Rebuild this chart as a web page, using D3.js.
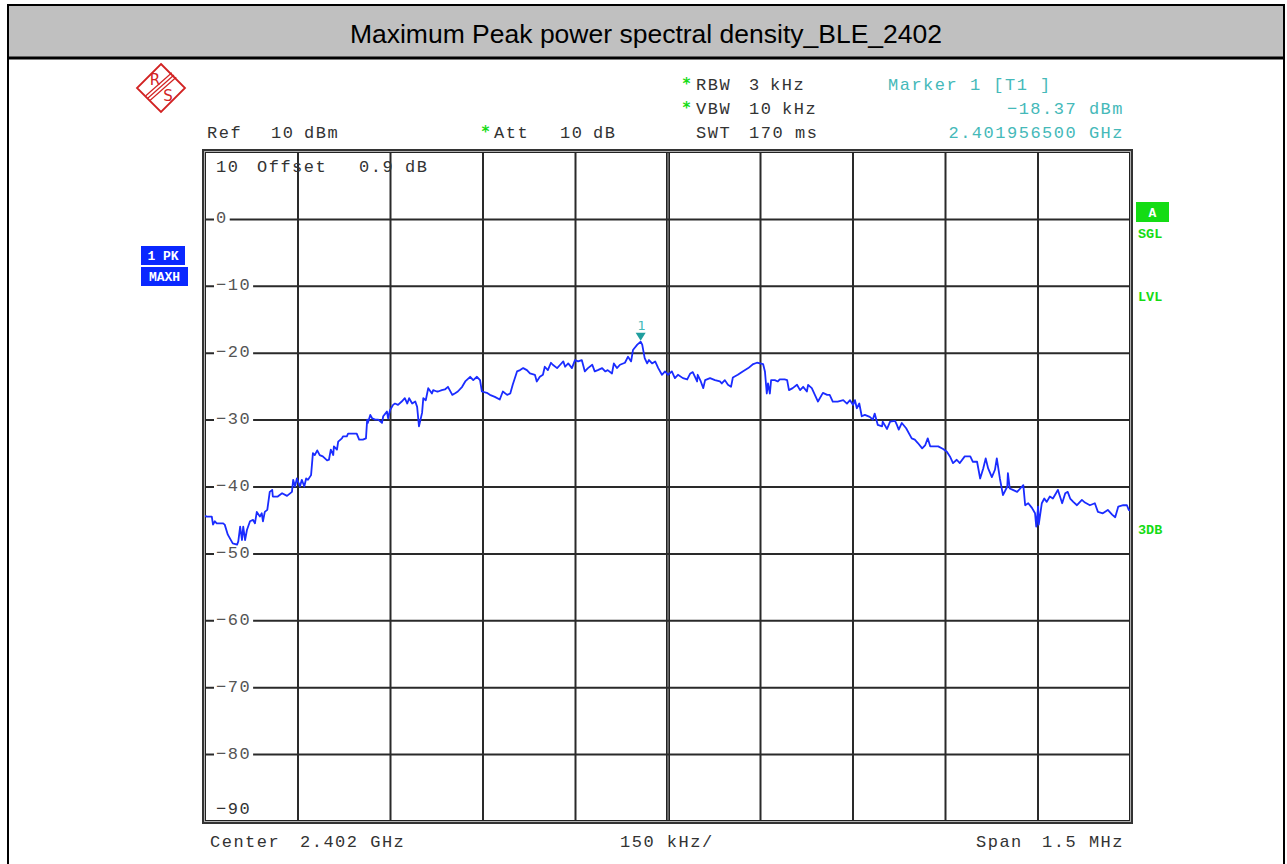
<!DOCTYPE html>
<html>
<head>
<meta charset="utf-8">
<script src="https://cdn.jsdelivr.net/npm/d3@7"></script>
<style>
  body { margin: 0; background: #fff; }
  svg text { font-family: "Liberation Mono", "DejaVu Sans Mono", monospace; }
</style>
</head>
<body>
<svg id="chart" width="1287" height="864"></svg>
<script>
// ---- data -------------------------------------------------------------
const chartTitle = "Maximum Peak power spectral density_BLE_2402";
const centerGHz = 2.402;
const spanKHz = 1500;
const divKHz = 150;
const refLevelDbm = 10;
const levelDivDb = 10;
const levelTicks = [10, 0, -10, -20, -30, -40, -50, -60, -70, -80, -90];
const freqGridKHz = [-750, -600, -450, -300, -150, 0, 150, 300, 450, 600, 750];

// Marker 1 on trace 1
const markerOffsetKHz = -43.5;
const markerLevelDbm = -18.37;

// Max-hold trace: [offset from center in kHz, level in dBm]
const tracePoints = [
  [-750,-44.4],[-747,-44.5],[-739,-44.5],[-737,-45.7],[-734,-45.2],[-731,-45.5],[-726,-45.5],[-721,-45.5],
  [-718,-45.7],[-713,-47.2],[-705,-48.5],[-698,-48.7],[-696,-48.2],[-693,-46.0],[-690,-48.0],[-688,-46.0],
  [-685,-48.0],[-682,-46.5],[-677,-45.2],[-672,-45.0],[-669,-45.5],[-666,-43.8],[-661,-44.5],[-658,-44.0],
  [-656,-45.2],[-653,-43.8],[-649,-43.5],[-645,-40.8],[-641,-40.5],[-640,-41.5],[-632,-41.5],[-625,-41.0],
  [-617,-41.4],[-609,-40.8],[-607,-39.0],[-604,-40.0],[-601,-38.8],[-596,-40.0],[-593,-39.0],[-589,-40.0],
  [-586,-38.8],[-583,-39.0],[-578,-38.3],[-575,-35.0],[-572,-35.3],[-568,-34.6],[-564,-35.3],[-559,-35.5],
  [-552,-36.1],[-549,-36.0],[-546,-34.5],[-542,-35.3],[-541,-34.0],[-536,-34.5],[-534,-33.3],[-528,-32.8],
  [-526,-32.5],[-520,-32.5],[-518,-32.1],[-504,-32.1],[-500,-33.0],[-494,-33.0],[-489,-32.8],[-487,-30.0],
  [-486,-30.5],[-482,-29.3],[-479,-29.8],[-474,-30.0],[-469,-30.0],[-463,-30.5],[-461,-29.5],[-455,-28.8],
  [-453,-29.8],[-450,-28.6],[-445,-27.8],[-442,-27.6],[-437,-27.8],[-431,-27.3],[-426,-26.8],[-422,-27.6],
  [-419,-26.8],[-414,-27.6],[-409,-27.3],[-406,-28.1],[-403,-31.0],[-398,-29.0],[-396,-26.8],[-392,-27.1],
  [-388,-25.3],[-382,-26.1],[-380,-25.6],[-374,-25.8],[-372,-25.8],[-366,-25.6],[-361,-25.5],[-356,-25.1],
  [-349,-26.3],[-345,-26.1],[-340,-25.8],[-333,-25.1],[-328,-24.3],[-320,-23.6],[-315,-24.1],[-309,-23.6],
  [-304,-24.1],[-301,-25.8],[-293,-26.0],[-288,-26.3],[-280,-26.6],[-272,-27.0],[-267,-25.8],[-260,-26.3],
  [-255,-26.1],[-251,-24.8],[-244,-22.8],[-239,-22.6],[-234,-22.3],[-228,-22.6],[-223,-23.1],[-215,-23.3],
  [-212,-24.3],[-207,-23.6],[-202,-23.3],[-199,-22.1],[-194,-22.6],[-189,-21.5],[-186,-21.8],[-179,-22.3],
  [-174,-21.8],[-169,-21.3],[-166,-22.1],[-161,-21.6],[-155,-22.3],[-150,-21.1],[-145,-21.3],[-139,-21.1],
  [-134,-22.8],[-129,-22.3],[-122,-21.8],[-118,-22.8],[-113,-22.6],[-106,-22.3],[-101,-22.8],[-97,-22.6],
  [-90,-23.1],[-87,-21.6],[-82,-22.3],[-77,-21.8],[-69,-21.5],[-64,-20.6],[-59,-21.3],[-56,-19.6],
  [-49,-18.8],[-43.5,-18.37],[-41,-18.8],[-37,-20.8],[-33,-21.6],[-30,-21.1],[-25,-21.6],[-20,-21.3],
  [-15,-22.3],[-9,-23.3],[-4,-22.8],[1,-23.3],[7,-22.8],[12,-23.8],[17,-23.3],[25,-23.8],
  [32,-24.0],[37,-23.1],[41,-22.9],[48,-24.3],[49,-23.3],[54,-24.3],[58,-25.3],[61,-24.1],
  [69,-23.8],[77,-24.1],[85,-24.3],[88,-24.6],[93,-24.1],[98,-24.8],[103,-25.1],[106,-23.7],
  [114,-23.3],[122,-22.8],[131,-22.3],[139,-21.7],[145,-21.5],[150,-21.6],[155,-21.7],[158,-22.8],
  [161,-26.1],[163,-24.6],[166,-26.1],[168,-24.1],[174,-24.1],[179,-24.3],[182,-24.0],[190,-24.0],
  [194,-24.1],[197,-25.6],[203,-25.3],[210,-24.8],[215,-25.6],[220,-25.1],[226,-25.8],[228,-24.8],
  [234,-25.3],[239,-26.3],[244,-27.3],[252,-26.0],[259,-26.3],[263,-26.3],[268,-27.3],[276,-27.3],
  [285,-27.1],[291,-27.6],[296,-27.1],[301,-27.8],[304,-27.1],[307,-28.3],[311,-27.6],[315,-29.5],
  [320,-29.3],[328,-29.6],[333,-30.0],[336,-29.1],[341,-30.8],[348,-31.0],[349,-30.3],[356,-31.4],
  [361,-30.3],[369,-30.2],[372,-30.8],[375,-31.5],[380,-30.5],[387,-31.3],[396,-32.8],[401,-33.0],
  [406,-33.5],[413,-34.3],[418,-33.8],[422,-32.8],[426,-34.0],[431,-34.0],[439,-34.0],[447,-34.4],
  [453,-34.8],[458,-35.5],[463,-36.5],[469,-36.0],[474,-36.5],[482,-35.5],[491,-35.5],[495,-36.3],
  [502,-36.3],[507,-38.8],[512,-37.3],[516,-35.8],[520,-37.3],[526,-38.6],[531,-37.5],[534,-35.8],
  [539,-38.8],[544,-41.3],[551,-40.0],[552,-38.0],[555,-40.3],[560,-40.5],[567,-40.8],[572,-40.3],
  [577,-39.8],[580,-42.8],[585,-42.5],[591,-43.2],[596,-44.0],[598,-46.0],[601,-43.0],[602,-45.7],
  [607,-42.5],[611,-41.8],[615,-42.3],[620,-41.5],[625,-41.8],[630,-41.0],[633,-40.5],[640,-42.5],
  [645,-41.0],[649,-40.8],[653,-41.8],[658,-42.3],[664,-42.8],[672,-42.0],[677,-42.4],[685,-42.8],
  [693,-42.5],[698,-43.8],[706,-44.0],[714,-43.5],[721,-44.2],[726,-44.6],[731,-43.0],[739,-42.8],
  [745,-42.8],[748,-43.5],[750,-43.6]
];

// ---- layout -----------------------------------------------------------
const W = 1287, H = 864;
const plot = { left: 205, right: 1130, top: 152, bottom: 821 };
const monoSize = 17, monoSpacing = 1.5;
const colors = {
  trace: "#1a2cff", grid: "#2a2a2a", text: "#444", green: "#14dc14",
  marker: "#1f9e9e", markerText: "#45b9b9", badge: "#0a28ff", logo: "#d22222"
};

const svg = d3.select("#chart");
svg.append("rect").attr("width", W).attr("height", H).attr("fill", "#fff");

// title bar and outer frame
svg.append("rect").attr("x", 8).attr("y", 5).attr("width", 1276).attr("height", 52).attr("fill", "#c0c0c0");
svg.append("rect").attr("x", 8).attr("y", 5).attr("width", 1276).attr("height", 870)
  .attr("fill", "none").attr("stroke", "#000").attr("stroke-width", 2);
svg.append("line").attr("x1", 8).attr("x2", 1284).attr("y1", 58).attr("y2", 58)
  .attr("stroke", "#000").attr("stroke-width", 3);
svg.append("text").attr("x", 646).attr("y", 34)
  .attr("text-anchor", "middle").attr("dominant-baseline", "central")
  .style("font-family", "'Liberation Sans', Arial, sans-serif").style("font-size", "26.5px")
  .attr("fill", "#000").text(chartTitle);

// scales
const x = d3.scaleLinear().domain([-spanKHz / 2, spanKHz / 2]).range([plot.left, plot.right]);
const y = d3.scaleLinear()
  .domain([refLevelDbm, refLevelDbm - levelDivDb * 10]).range([plot.top, plot.bottom]);

// grid via axes
const gridV = svg.append("g").attr("transform", `translate(0,${plot.bottom})`)
  .call(d3.axisBottom(x).tickValues(freqGridKHz.slice(1, -1))
    .tickSize(-(plot.bottom - plot.top)).tickFormat(""));
const gridH = svg.append("g").attr("transform", `translate(${plot.left},0)`)
  .call(d3.axisLeft(y).tickValues(levelTicks.slice(1, -1))
    .tickSize(-(plot.right - plot.left)).tickFormat(""));
[gridV, gridH].forEach(g => {
  g.select(".domain").remove();
  g.selectAll(".tick line").attr("stroke", colors.grid).attr("stroke-width", 2);
});
// center line drawn doubled
gridV.selectAll(".tick").filter(d => d === 0).each(function () {
  const t = d3.select(this);
  t.select("line").attr("stroke-width", 4).attr("stroke", "#222");
  t.append("line").attr("y2", -(plot.bottom - plot.top)).attr("stroke", "#aaa").attr("stroke-width", 1);
});

// plot frame: dark / light / dark
const frame = (inset, color, w) => svg.append("rect")
  .attr("x", plot.left - 2 + inset).attr("y", plot.top - 2 + inset)
  .attr("width", plot.right - plot.left + 4 - 2 * inset)
  .attr("height", plot.bottom - plot.top + 4 - 2 * inset)
  .attr("fill", "none").attr("stroke", color).attr("stroke-width", w);
frame(0, "#333", 2);
frame(1.5, "#b0b0b0", 1);
frame(2.5, "#222", 1);

// level labels inside the plot, left edge
const levelLabel = levelTicks.map(v => (v < 0 ? "\u2212" : "") + Math.abs(v));
levelTicks.forEach((v, i) => {
  let ly = y(v);
  if (i === 0) ly += 15;
  if (i === levelTicks.length - 1) ly -= 12;
  const txt = levelLabel[i];
  if (i > 0 && i < levelTicks.length - 1) {
    svg.append("rect").attr("x", 214).attr("y", ly - 8)
      .attr("width", txt.length * (monoSize * 0.6 + monoSpacing) + 4).attr("height", 16).attr("fill", "#fff");
  }
  svg.append("text").attr("x", 216).attr("y", ly)
    .attr("dominant-baseline", "central")
    .style("font-size", monoSize + "px").style("letter-spacing", monoSpacing + "px")
    .attr("fill", i === 0 || i === levelTicks.length - 1 ? "#333" : "#555").text(txt);
});

// offset note next to the reference label
const monoText = (tx, ty, s, fill, anchor) => svg.append("text")
  .attr("x", tx).attr("y", ty).attr("dominant-baseline", "central")
  .attr("text-anchor", anchor || "start")
  .style("font-size", monoSize + "px").style("letter-spacing", monoSpacing + "px")
  .attr("fill", fill || "#333").text(s);
monoText(257, y(levelTicks[0]) + 15, "Offset");
monoText(359, y(levelTicks[0]) + 15, "0.9");
monoText(405, y(levelTicks[0]) + 15, "dB");

// trace
svg.append("clipPath").attr("id", "plotClip").append("rect")
  .attr("x", plot.left).attr("y", plot.top)
  .attr("width", plot.right - plot.left).attr("height", plot.bottom - plot.top);
svg.append("path").datum(tracePoints)
  .attr("clip-path", "url(#plotClip)")
  .attr("fill", "none").attr("stroke", colors.trace).attr("stroke-width", 1.8)
  .attr("stroke-linejoin", "round")
  .attr("d", d3.line().x(d => x(d[0])).y(d => y(d[1])));

// marker 1
const mx = x(markerOffsetKHz), my = y(markerLevelDbm);
svg.append("path")
  .attr("d", `M${mx - 5},${my - 9}L${mx + 5},${my - 9}L${mx},${my - 1}Z`)
  .attr("fill", colors.marker);
svg.append("text").attr("x", mx + 1).attr("y", my - 16)
  .attr("text-anchor", "middle").attr("dominant-baseline", "central")
  .style("font-family", "'DejaVu Sans', sans-serif").style("font-size", "13px")
  .attr("fill", colors.markerText).text("1");

// header settings
const star = (sx, sy) => svg.append("text").attr("x", sx).attr("y", sy + 2)
  .attr("dominant-baseline", "central")
  .style("font-family", "'DejaVu Sans Mono', monospace").style("font-size", "15px").style("font-weight", "bold")
  .attr("fill", colors.green).text("*");
star(682, 82); star(682, 106); star(481, 130);
monoText(207, 133, "Ref"); monoText(271, 133, "10"); monoText(304, 133, "dBm");
monoText(494, 133, "Att"); monoText(560, 133, "10"); monoText(593, 133, "dB");
monoText(696, 85, "RBW"); monoText(749, 85, "3"); monoText(770, 85, "kHz");
monoText(696, 109, "VBW"); monoText(749, 109, "10"); monoText(782, 109, "kHz");
monoText(696, 133, "SWT"); monoText(749, 133, "170"); monoText(795, 133, "ms");

// marker readout
const markerGHz = centerGHz + markerOffsetKHz / 1e6;
monoText(888, 85, "Marker 1 [T1 ]", colors.markerText);
monoText(1124, 109, "\u2212" + Math.abs(markerLevelDbm).toFixed(2) + " dBm", colors.markerText, "end");
monoText(1124, 133, markerGHz.toFixed(9) + " GHz", colors.markerText, "end");

// footer
monoText(210, 842, "Center"); monoText(300, 842, centerGHz.toFixed(3) + " GHz");
monoText(620, 842, divKHz + " kHz/");
monoText(976, 842, "Span"); monoText(1124, 842, (spanKHz / 1000).toFixed(1) + " MHz", "#333", "end");

// trace badges
const badge = (bx, by, bw, bh, label, bg, fg) => {
  svg.append("rect").attr("x", bx).attr("y", by).attr("width", bw).attr("height", bh).attr("fill", bg);
  svg.append("text").attr("x", bx + bw / 2).attr("y", by + bh / 2 + 1)
    .attr("text-anchor", "middle").attr("dominant-baseline", "central")
    .style("font-size", "13px").style("font-weight", "bold").attr("fill", fg).text(label);
};
badge(141, 246, 44, 19, "1 PK", colors.badge, "#fff");
badge(141, 267, 47, 19, "MAXH", colors.badge, "#fff");
badge(1136, 202, 33, 20, "A", colors.green, "#fff");
const sideLabel = (ly, s) => svg.append("text").attr("x", 1138).attr("y", ly)
  .attr("dominant-baseline", "central").style("font-size", "13.5px").style("font-weight", "bold")
  .attr("fill", colors.green).text(s);
sideLabel(234, "SGL"); sideLabel(297, "LVL"); sideLabel(530, "3DB");

// R&S logo
const logo = svg.append("g").attr("transform", "translate(161,88)");
logo.append("path").attr("d", "M0,-24L24,0L0,24L-24,0Z")
  .attr("fill", "none").attr("stroke", colors.logo).attr("stroke-width", 1.8);
[-2.2, 0, 2.2].forEach(o => logo.append("line")
  .attr("x1", -13 + o).attr("y1", 10 + o).attr("x2", 13 + o).attr("y2", -13 + o)
  .attr("stroke", colors.logo).attr("stroke-width", 1.2));
logo.append("text").attr("x", -6).attr("y", -8).attr("text-anchor", "middle").attr("dominant-baseline", "central")
  .style("font-family", "'DejaVu Sans', sans-serif").style("font-size", "15px").attr("fill", colors.logo).text("R");
logo.append("text").attr("x", 7).attr("y", 8).attr("text-anchor", "middle").attr("dominant-baseline", "central")
  .style("font-family", "'DejaVu Sans', sans-serif").style("font-size", "15px").attr("fill", colors.logo).text("S");
</script>
</body>
</html>
